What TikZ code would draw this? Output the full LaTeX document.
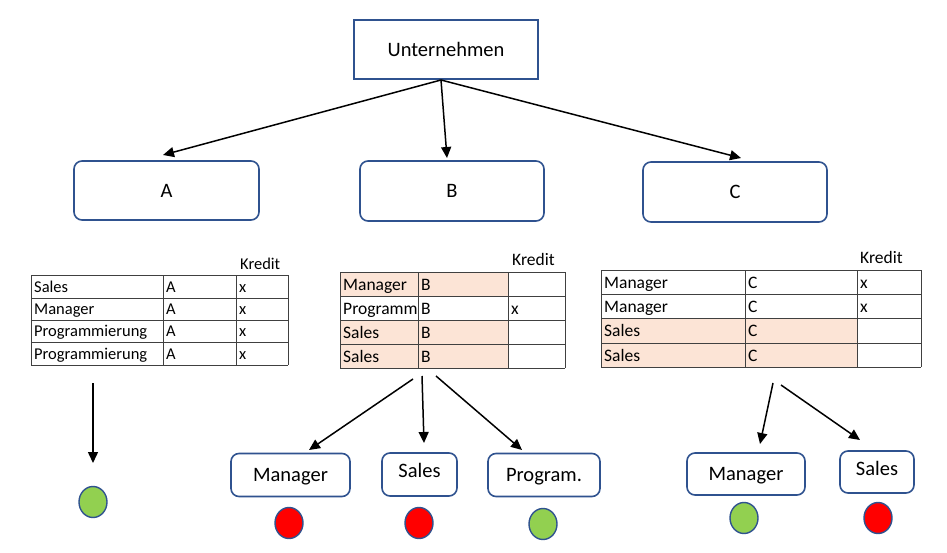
\documentclass[tikz,border=0pt]{standalone}
\usepackage{fontspec}
\setmainfont{Carlito}
\usetikzlibrary{arrows.meta,shapes.geometric}
\definecolor{bblue}{HTML}{2F528F}
\definecolor{peach}{HTML}{FCE4D6}
\definecolor{lgreen}{HTML}{92D050}
\definecolor{gridc}{HTML}{404040}
\begin{document}
\begin{tikzpicture}[x=1pt,y=-1pt,
  topbox/.style={draw=bblue, line width=1.6pt, inner sep=0pt, font=\fontsize{20.5}{24}\selectfont},
  rbox/.style={draw=bblue, line width=1.6pt, rounded corners=8pt, inner sep=0pt, text height=13.2pt, text depth=0pt, font=\fontsize{20.5}{24}\selectfont},
  arr/.style={-{Triangle[length=11pt,width=10pt]}, line width=1.5pt},
  dot/.style={ellipse, draw=bblue, line width=1.4pt, minimum width=28pt, minimum height=31pt, inner sep=0pt},
  grid/.style={draw=gridc, line width=1pt},
  tA/.style={anchor=west, inner sep=0pt, text height=10.6pt, text depth=0pt, font=\fontsize{16.5}{19}\selectfont},
  tB/.style={anchor=west, inner sep=0pt, text height=11.2pt, text depth=0pt, font=\fontsize{17.5}{20}\selectfont},
]
\useasboundingbox[fill=white] (0,0) rectangle (947,553);

% top level
\node[topbox, minimum width=184pt, minimum height=59pt] (u) at (446,49.5) {Unternehmen};
\node[rbox, minimum width=185pt, minimum height=59pt] (A) at (166.5,190.5) {A};
\node[rbox, minimum width=184pt, minimum height=60pt] (B) at (452,191) {B};
\node[rbox, minimum width=184pt, minimum height=60pt] (C) at (735,192) {C};
\coordinate (us) at (441,80);
\coordinate (aA) at (163,155);
\coordinate (aB) at (447,158);
\coordinate (aC) at (741,158);
\draw[arr] (us) -- (aA);
\draw[arr] (us) -- (aB);
\draw[arr] (us) -- (aC);

% table A
\foreach \y in {275,298,320,342,365} \draw[grid] (31,\y) -- (288,\y);
\foreach \x in {31,163,236,288} \draw[grid] (\x,275) -- (\x,365);
\node[tA] (kA) at (240,264) {Kredit};
\node[tA] (a11) at (34,287) {Sales};
\node[tA] (a12) at (166,287) {A};
\node[tA] (a13) at (239,287) {x};
\node[tA] (a21) at (34,309.5) {Manager};
\node[tA] (a22) at (166,309.5) {A};
\node[tA] (a23) at (239,309.5) {x};
\node[tA] (a31) at (34,331.5) {Programmierung};
\node[tA] (a32) at (166,331.5) {A};
\node[tA] (a33) at (239,331.5) {x};
\node[tA] (a41) at (34,354) {Programmierung};
\node[tA] (a42) at (166,354) {A};
\node[tA] (a43) at (239,354) {x};

% table B
\fill[peach] (340,272) rectangle (508,296);
\fill[peach] (340,320) rectangle (508,368);
\foreach \y in {272,296,320,344,368} \draw[grid] (340,\y) -- (565,\y);
\foreach \x in {340,418,508,565} \draw[grid] (\x,272) -- (\x,368);
\node[tB] (kB) at (512,260) {Kredit};
\node[tB] (b11) at (343,284.5) {Manager};
\node[tB] (b12) at (421,284.5) {B};
\begin{scope}
\clip (340,297) rectangle (417.5,319);
\node[tB] (b21) at (343,308.5) {Programm};
\end{scope}
\node[tB] (b22) at (421,308.5) {B};
\node[tB] (b23) at (511,308.5) {x};
\node[tB] (b31) at (343,332.5) {Sales};
\node[tB] (b32) at (421,332.5) {B};
\node[tB] (b41) at (343,356.5) {Sales};
\node[tB] (b42) at (421,356.5) {B};

% table C
\fill[peach] (601,318) rectangle (857,367);
\foreach \y in {270,294,318,343,367} \draw[grid] (601,\y) -- (921,\y);
\foreach \x in {601,745,857,921} \draw[grid] (\x,270) -- (\x,367);
\node[tB] (kC) at (860,258) {Kredit};
\node[tB] (c11) at (604,282.5) {Manager};
\node[tB] (c12) at (748,282.5) {C};
\node[tB] (c13) at (860,282.5) {x};
\node[tB] (c21) at (604,306.5) {Manager};
\node[tB] (c22) at (748,306.5) {C};
\node[tB] (c23) at (860,306.5) {x};
\node[tB] (c31) at (604,331) {Sales};
\node[tB] (c32) at (748,331) {C};
\node[tB] (c41) at (604,355.5) {Sales};
\node[tB] (c42) at (748,355.5) {C};

% lower part A
\coordinate (aS) at (93,383);
\coordinate (aE) at (93,463);
\draw[arr] (aS) -- (aE);
\node[dot, fill=lgreen] (dA) at (93,502) {};

% lower part B
\node[rbox, minimum width=119pt, minimum height=43pt] (bm) at (290.5,475) {Manager};
\node[rbox, minimum width=75pt, minimum height=43pt, text depth=7pt] (bs) at (419.5,474.5) {Sales};
\node[rbox, minimum width=112pt, minimum height=43pt] (bp) at (544,475) {Program.};
\coordinate (bS1) at (413,379);
\coordinate (bE1) at (309,450);
\coordinate (bS2) at (422,376);
\coordinate (bE2) at (424,443);
\coordinate (bS3) at (436,376);
\coordinate (bE3) at (522,450);
\draw[arr] (bS1) -- (bE1);
\draw[arr] (bS2) -- (bE2);
\draw[arr] (bS3) -- (bE3);
\node[dot, fill=red] (dBm) at (289,523) {};
\node[dot, fill=red] (dBs) at (419,523) {};
\node[dot, fill=lgreen] (dBp) at (543,524) {};

% lower part C
\node[rbox, minimum width=118pt, minimum height=42pt] (cm) at (746,474) {Manager};
\node[rbox, minimum width=74pt, minimum height=42pt, text depth=7pt] (cs) at (877,472) {Sales};
\coordinate (cS1) at (773,383);
\coordinate (cE1) at (760,444);
\coordinate (cS2) at (781,385);
\coordinate (cE2) at (860,440);
\draw[arr] (cS1) -- (cE1);
\draw[arr] (cS2) -- (cE2);
\node[dot, fill=lgreen] (dCm) at (744,518) {};
\node[dot, fill=red] (dCs) at (878,518) {};
\end{tikzpicture}
\end{document}
